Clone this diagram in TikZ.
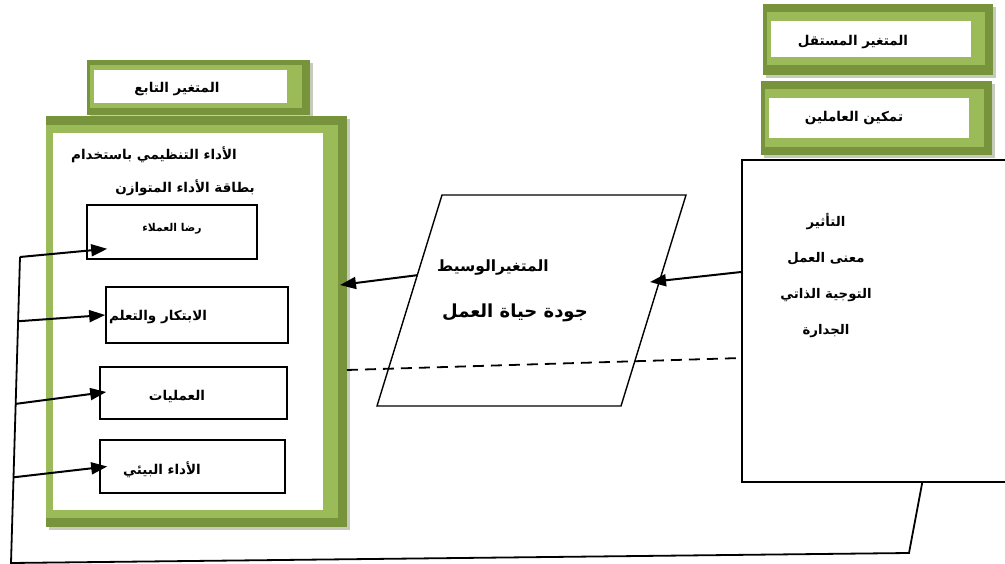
\documentclass[tikz,border=0pt]{standalone}
\usepackage{fontspec}
\newfontfamily\arabicfont[Script=Arabic]{DejaVu Sans}
\TeXXeTstate=1
\usetikzlibrary{arrows.meta}
\usetikzlibrary{calc}

\definecolor{darkgreen}{HTML}{77933C}
\definecolor{lightgreen}{HTML}{9BBB59}
\definecolor{shadowgray}{HTML}{C4CBB8}

\begin{document}
\begin{tikzpicture}[x=1pt, y=-1pt,
        ar/.style={font=\arabicfont\bfseries\fontsize{13.5}{16}\selectfont, inner sep=0},
        sub/.style={draw, line width=1.6pt, inner sep=0},
        arr/.style={-{Triangle[length=16pt, width=12pt]}, line width=2pt}]
    \useasboundingbox (0,0) rectangle (1005,564);

    % dependent variable header
    \fill[shadowgray] (90,63) rectangle (313,118);
    \fill[darkgreen] (87,60) rectangle (310,115);
    \fill[lightgreen] (90,65) rectangle (302,108);
    \fill[white] (94,70) rectangle (287,103);
    \node[ar] (dephead) at (177,89) {\beginR المتغير التابع\endR};

    % big box of the dependent variable
    \fill[shadowgray] (49,119) rectangle (350,530);
    \fill[darkgreen] (46,116) rectangle (347,527);
    \fill[lightgreen] (46,125) rectangle (338,518);
    \fill[white] (53,133) rectangle (323,510);
    \node[ar] (dep1) at (154,155) {\beginR الأداء التنظيمي باستخدام\endR};
    \node[ar] (dep2) at (185,188) {\beginR بطاقة الأداء المتوازن\endR};

    \node[sub, minimum width=170pt, minimum height=54pt] (cust) at (172,232) {};
    \node[sub, minimum width=182pt, minimum height=56pt] (learn) at (197,315) {};
    \node[sub, minimum width=187pt, minimum height=52pt] (proc) at (193.5,393) {};
    \node[sub, minimum width=185pt, minimum height=53pt] (env) at (192.5,466.5) {};
    \node[ar, font=\arabicfont\bfseries\fontsize{10.8}{13}\selectfont] (custt) at (172,229) {\beginR رضا العملاء\endR};
    \node[ar] (learnt) at (158,317) {\beginR الابتكار  والتعلم\endR};
    \node[ar] (proct) at (177,396) {\beginR العمليات\endR};
    \node[ar] (envt) at (162,470) {\beginR الأداء البيئي\endR};

    % independent variable headers
    \fill[shadowgray] (766,7) rectangle (996,78);
    \fill[darkgreen] (763,4) rectangle (993,75);
    \fill[lightgreen] (767,12) rectangle (985,65);
    \fill[white] (771,21) rectangle (971,57);
    \node[ar] (indephead) at (853,42) {\beginR المتغير  المستقل\endR};

    \fill[shadowgray] (764,84) rectangle (995,158);
    \fill[darkgreen] (761,81) rectangle (992,155);
    \fill[lightgreen] (765,89) rectangle (984,147);
    \fill[white] (769,98) rectangle (969,138);
    \node[ar] (emphead) at (854,118) {\beginR تمكين  العاملين\endR};

    \node[draw, line width=1.6pt, minimum width=268pt, minimum height=322pt] (infl) at (876,321) {};
    \node[ar, align=center, font=\arabicfont\bfseries\fontsize{13.3}{36}\selectfont] (inflt) at (826,276)
        {\beginR التأثير\endR\\ \beginR معنى العمل\endR\\ \beginR التوجية  الذاتي\endR\\ \beginR الجدارة\endR};

    % mediating variable
    \coordinate (p1) at (442,195);
    \coordinate (p2) at (686,195);
    \coordinate (p3) at (621,406);
    \coordinate (p4) at (377,406);
    \draw[line width=1.4pt, line join=miter] (p1) -- (p2) -- (p3) -- (p4) -- cycle;
    \node[ar, font=\arabicfont\bfseries\fontsize{15.5}{18}\selectfont] (med1) at (493,268) {\beginR المتغيرالوسيط\endR};
    \node[ar, font=\arabicfont\bfseries\fontsize{18}{21}\selectfont] (med2) at (515,313) {\beginR جودة حياة العمل\endR};

    % connectors
    \coordinate (depin) at (340,285);
    \coordinate (medin) at (650,282);
    \coordinate (depout) at (347,370);
    \draw[arr] ($(infl.west)+(0,-49)$) -- (medin);
    \draw[arr] ($(p1)!0.38!(p4)$) -- (depin);
    \draw[line width=1.8pt, dash pattern=on 11pt off 7pt] (depout) -- ($(infl.west)+(0,37)$);

    \coordinate (lt) at (20,257);
    \coordinate (lb) at (11,563);
    \coordinate (rb) at (909,553);
    \draw[line width=1.8pt] ($(infl.south west)+(181,0)$) -- (rb) -- (lb) -- (lt);
    \draw[arr] (lt) -- ($(cust.south west)+(21,-11)$);
    \draw[arr] ($(lt)!0.21!(lb)$) -- (learn.west);
    \draw[arr] ($(lt)!0.48!(lb)$) -- ($(proc.west)+(7,-1)$);
    \draw[arr] ($(lt)!0.72!(lb)$) -- ($(env.west)+(8,0)$);
\end{tikzpicture}
\end{document}
